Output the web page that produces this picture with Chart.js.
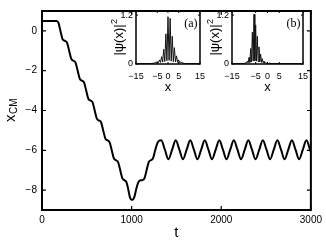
<!DOCTYPE html>
<html><head><meta charset="utf-8">
<script src="https://cdn.jsdelivr.net/npm/chart.js@4"></script>
<style>
html,body{margin:0;padding:0;background:#fff;}
#wrap{position:relative;width:326px;height:240px;overflow:hidden;background:#fff;}
canvas{position:absolute;}
</style></head><body>
<div id="wrap">
<canvas id="main" width="326" height="240" style="left:0;top:0;width:326px;height:240px"></canvas>
<canvas id="insA" width="112" height="100" style="left:100px;top:0;width:112px;height:100px"></canvas>
<canvas id="insB" width="120" height="100" style="left:206px;top:0;width:120px;height:100px"></canvas>
</div>
<script>
// ---------- data ----------
const tValues = [0,160,183,206,229,255,279,303,327,350,374,398,422,445,469,493,517,540,564,588,612,635,659,683,707,730,754,778,802,825,849,873,897,920,942,962,982,1005,1028,1050,1073,1097,1120,1143,1167,1191,1215,1238,1263,1292,1330,1371,1411,1452,1492,1533,1573,1614,1654,1695,1735,1776,1816,1857,1897,1938,1978,2019,2059,2100,2140,2181,2221,2262,2302,2343,2383,2424,2464,2505,2545,2586,2626,2667,2707,2748,2788,2829,2869,2910,2950,2991,3000];
const xcmValues = [0.5,0.5,0.41,0.0,-0.41,-0.5,-0.59,-1.0,-1.41,-1.5,-1.59,-2.0,-2.41,-2.5,-2.59,-3.0,-3.41,-3.5,-3.59,-4.0,-4.41,-4.5,-4.59,-5.0,-5.41,-5.5,-5.59,-6.0,-6.41,-6.5,-6.59,-7.0,-7.41,-7.5,-7.6,-7.95,-8.38,-8.5,-8.38,-7.98,-7.62,-7.51,-7.5,-7.41,-7.0,-6.59,-6.5,-6.41,-6.0,-5.6,-5.5,-5.97,-6.45,-5.97,-5.5,-5.97,-6.45,-5.97,-5.5,-5.97,-6.45,-5.97,-5.5,-5.97,-6.45,-5.97,-5.5,-5.97,-6.45,-5.97,-5.5,-5.97,-6.45,-5.97,-5.5,-5.97,-6.45,-5.97,-5.5,-5.97,-6.45,-5.97,-5.5,-5.97,-6.45,-5.97,-5.5,-5.97,-6.45,-5.97,-5.5,-5.97,-6.07];
const xTicksMain = [0,1000,2000,3000];
const yTicksMain = [0,-2,-4,-6,-8];

const psiAx = [-15,-8,-6.5,-6,-5.5,-5,-4.5,-4,-3.5,-3,-2.5,-2,-1.5,-1,-0.5,0,0.5,1,1.5,2,2.5,3,3.5,4,4.5,5,5.5,6,6.5,7,7.5,9,15];
const psiAy = [0.01,0.01,0.02,0.04,0.02,0.06,0.03,0.10,0.04,0.18,0.05,0.36,0.06,0.74,0.08,1.16,0.09,1.12,0.07,0.68,0.06,0.40,0.05,0.20,0.04,0.10,0.03,0.05,0.02,0.03,0.01,0.01,0.01];
const psiBx = [-15,-10,-9.2,-8.85,-8.5,-8.15,-7.8,-7.45,-7.1,-6.75,-6.4,-6.05,-5.7,-5.35,-5.0,-4.65,-4.3,-3.95,-3.6,-3.25,-2.9,-2.55,-2.2,-1.85,-1.5,-1.15,-0.8,-0.45,-0.1,0.25,0.6,2,15];
const psiBy = [0.01,0.01,0.03,0.02,0.07,0.03,0.16,0.04,0.38,0.05,0.78,0.07,1.22,0.08,0.96,0.07,0.68,0.06,0.42,0.05,0.24,0.04,0.13,0.03,0.07,0.02,0.04,0.02,0.03,0.01,0.02,0.01,0.01];
const insetXTicks = [-15,-5,0,5,15];
const insetYTicks = [0,1.2];

// ---------- helpers ----------
Chart.defaults.font.family = "'Liberation Sans', Arial, sans-serif";
Chart.defaults.color = '#000';
const fmt = v => (v < 0 ? '\u2212' + Math.abs(v) : String(v));

const framePlugin = {
  id: 'frame',
  afterDatasetsDraw(chart, args, o) {
    const {ctx, chartArea: a, scales} = chart;
    ctx.save();
    ctx.strokeStyle = '#000';
    ctx.lineWidth = o.tickW;
    ctx.beginPath();
    scales.x.ticks.forEach(t => {
      const p = scales.x.getPixelForValue(t.value);
      ctx.moveTo(p, a.bottom); ctx.lineTo(p, a.bottom - o.tickLen);
      ctx.moveTo(p, a.top); ctx.lineTo(p, a.top + o.tickLen);
    });
    scales.y.ticks.forEach(t => {
      const p = scales.y.getPixelForValue(t.value);
      ctx.moveTo(a.left, p); ctx.lineTo(a.left + o.tickLen, p);
      ctx.moveTo(a.right, p); ctx.lineTo(a.right - o.tickLen, p);
    });
    ctx.stroke();
    ctx.lineWidth = o.lw;
    ctx.strokeRect(a.left, a.top, a.right - a.left, a.bottom - a.top);
    ctx.restore();
  }
};

function scaleOpts(min, max, ticksArr, fitFn, fontSize, pad) {
  return {
    type: 'linear', min: min, max: max,
    afterBuildTicks: s => { s.ticks = ticksArr.map(v => ({value: v})); },
    afterFit: fitFn,
    grid: {display: false, drawTicks: false},
    border: {display: false},
    ticks: {padding: pad, color: '#000', font: {size: fontSize}, callback: fmt, maxRotation: 0, autoSkip: false}
  };
}

// ---------- main chart ----------
const mainLabels = {
  id: 'mainLabels',
  afterDraw(chart) {
    const {ctx, chartArea: a} = chart;
    ctx.save();
    ctx.fillStyle = '#000';
    ctx.font = "15px 'Liberation Sans', Arial, sans-serif";
    ctx.textAlign = 'center';
    ctx.textBaseline = 'alphabetic';
    ctx.fillText('t', (a.left + a.right) / 2, 237);
    const cy = (a.top + a.bottom) / 2;
    ctx.translate(0, cy);
    ctx.rotate(-Math.PI / 2);
    ctx.textAlign = 'left';
    ctx.font = "15px 'Liberation Sans', Arial, sans-serif";
    const wx = ctx.measureText('x').width;
    ctx.font = "10px 'Liberation Sans', Arial, sans-serif";
    const wc = ctx.measureText('CM').width;
    const start = -(wx + wc) / 2;
    ctx.font = "15px 'Liberation Sans', Arial, sans-serif";
    ctx.fillText('x', start, 15);
    ctx.font = "10px 'Liberation Sans', Arial, sans-serif";
    ctx.fillText('CM', start + wx + 0.5, 17);
    ctx.restore();
  }
};

new Chart(document.getElementById('main'), {
  type: 'line',
  data: {datasets: [{
    data: tValues.map((t, i) => ({x: t, y: xcmValues[i]})),
    borderColor: '#000', borderWidth: 2, pointRadius: 0,
    cubicInterpolationMode: 'monotone', fill: false
  }]},
  options: {
    responsive: false, animation: false, devicePixelRatio: 1,
    layout: {padding: {left: 0, right: 14, top: 3, bottom: 0}},
    plugins: {legend: {display: false}, tooltip: {enabled: false},
      frame: {lw: 2, tickLen: 4, tickW: 1.2}},
    scales: {
      x: scaleOpts(0, 3000, xTicksMain, s => { s.height = 30; }, 10, 4),
      y: scaleOpts(-9, 1, yTicksMain, s => { s.width = 42; }, 10, 5)
    }
  },
  plugins: [framePlugin, mainLabels]
});

// ---------- insets ----------
function insetLabels(tag) {
  return {
    id: 'insetLabels' + tag,
    afterDraw(chart) {
      const {ctx, chartArea: a} = chart;
      ctx.save();
      ctx.fillStyle = '#000';
      ctx.textAlign = 'center';
      ctx.textBaseline = 'alphabetic';
      ctx.font = "13px 'Liberation Sans', Arial, sans-serif";
      ctx.fillText('x', (a.left + a.right) / 2, 91);
      ctx.font = "12px 'Liberation Serif', 'Times New Roman', serif";
      ctx.textAlign = 'right';
      ctx.fillText('(' + tag + ')', a.right - 2.5, 27);
      const cy = (a.top + a.bottom) / 2;
      ctx.translate(0, cy);
      ctx.rotate(-Math.PI / 2);
      ctx.textAlign = 'left';
      ctx.font = "13px 'Liberation Sans', Arial, sans-serif";
      const main = '|\u03C8(x)|';
      const wm = ctx.measureText(main).width;
      ctx.font = "9px 'Liberation Sans', Arial, sans-serif";
      const ws = ctx.measureText('2').width;
      const start = -(wm + ws) / 2;
      const bx = a.left - 13;
      ctx.font = "13px 'Liberation Sans', Arial, sans-serif";
      ctx.fillText(main, start, bx);
      ctx.font = "9px 'Liberation Sans', Arial, sans-serif";
      ctx.fillText('2', start + wm + 0.5, bx - 6);
      ctx.restore();
    }
  };
}

function makeInset(id, xs, ys, tag, yAxisW, padRight) {
  new Chart(document.getElementById(id), {
    type: 'line',
    data: {datasets: [{
      data: xs.map((x, i) => ({x: x, y: ys[i]})),
      borderColor: '#111', borderWidth: 1, pointRadius: 0, tension: 0, fill: false
    }]},
    options: {
      responsive: false, animation: false, devicePixelRatio: 1,
      layout: {padding: {left: 0, right: padRight, top: 11, bottom: 0}},
      plugins: {legend: {display: false}, tooltip: {enabled: false},
        frame: {lw: 1.5, tickLen: 2, tickW: 1}},
      scales: {
        x: scaleOpts(-15, 15, insetXTicks, s => { s.height = 36; }, 9, 7),
        y: scaleOpts(0, 1.3, insetYTicks, s => { s.width = yAxisW; }, 9, 3)
      }
    },
    plugins: [framePlugin, insetLabels(tag)]
  });
}
makeInset('insA', psiAx, psiAy, 'a', 36, 7);
makeInset('insB', psiBx, psiBy, 'b', 26, 23);
</script>
</body></html>
